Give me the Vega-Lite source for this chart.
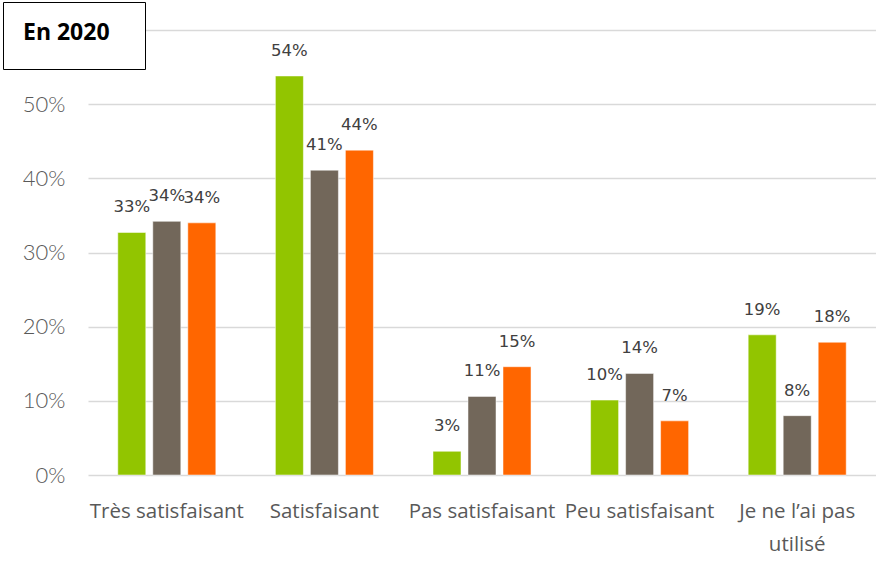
{
  "$schema": "https://vega.github.io/schema/vega-lite/v6.json",
  "width": 788,
  "height": 445,
  "autosize": {"type": "none"},
  "padding": {"left": 88, "top": 30, "right": 0, "bottom": 97},
  "background": "white",
  "config": {"view": {"stroke": null}},
  "data": {
    "values": [
      {"cat": "Très satisfaisant", "serie": "Série 1", "v": 0.327},
      {"cat": "Très satisfaisant", "serie": "Série 2", "v": 0.342},
      {"cat": "Très satisfaisant", "serie": "Série 3", "v": 0.340},
      {"cat": "Satisfaisant", "serie": "Série 1", "v": 0.538},
      {"cat": "Satisfaisant", "serie": "Série 2", "v": 0.411},
      {"cat": "Satisfaisant", "serie": "Série 3", "v": 0.438},
      {"cat": "Pas satisfaisant", "serie": "Série 1", "v": 0.032},
      {"cat": "Pas satisfaisant", "serie": "Série 2", "v": 0.106},
      {"cat": "Pas satisfaisant", "serie": "Série 3", "v": 0.146},
      {"cat": "Peu satisfaisant", "serie": "Série 1", "v": 0.101},
      {"cat": "Peu satisfaisant", "serie": "Série 2", "v": 0.137},
      {"cat": "Peu satisfaisant", "serie": "Série 3", "v": 0.073},
      {"cat": "Je ne l’ai pas utilisé", "serie": "Série 1", "v": 0.189},
      {"cat": "Je ne l’ai pas utilisé", "serie": "Série 2", "v": 0.080},
      {"cat": "Je ne l’ai pas utilisé", "serie": "Série 3", "v": 0.179}
    ]
  },
  "encoding": {
    "x": {
      "field": "cat", "type": "nominal", "sort": null,
      "scale": {"paddingInner": 0.378, "paddingOuter": 0.189},
      "axis": {
        "title": null, "labelAngle": 0, "domain": false, "ticks": false,
        "labelFont": "Open Sans", "labelFontSize": 20.5, "labelColor": "#595959",
        "labelPadding": 26, "labelLineHeight": 33, "labelLimit": 200,
        "labelExpr": "datum.value == 'Je ne l’ai pas utilisé' ? ['Je ne l’ai pas', 'utilisé'] : datum.label"
      }
    },
    "xOffset": {"field": "serie", "type": "nominal", "scale": {"paddingInner": 0.2, "paddingOuter": 0}},
    "y": {
      "field": "v", "type": "quantitative",
      "scale": {"domain": [0, 0.6], "nice": false},
      "axis": {
        "title": null, "values": [0, 0.1, 0.2, 0.3, 0.4, 0.5, 0.6],
        "domain": false, "ticks": false,
        "gridColor": "#d9d9d9", "gridWidth": 1.5,
        "labelFont": "Lato", "labelFontWeight": 300, "labelFontSize": 22, "labelColor": "#595959",
        "labelPadding": 23,
        "labelExpr": "datum.value >= 0.55 ? '' : format(datum.value, '.0%')"
      }
    }
  },
  "layer": [
    {
      "mark": {"type": "bar", "stroke": "white", "strokeWidth": 0.5},
      "encoding": {
        "color": {
          "field": "serie", "type": "nominal",
          "scale": {"domain": ["Série 1", "Série 2", "Série 3"], "range": ["#92c500", "#72675a", "#ff6600"]},
          "legend": {
            "orient": "none", "legendX": -85, "legendY": -28,
            "values": ["Série 1"],
            "title": "En 2020",
            "titleFont": "Open Sans", "titleFontSize": 23, "titleFontWeight": "bold", "titleColor": "black",
            "titlePadding": 0,
            "symbolSize": 16, "symbolOpacity": 0, "symbolStrokeWidth": 0,
            "labelFontSize": 4, "labelOpacity": 0, "labelOffset": 85,
            "padding": 20,
            "strokeColor": "black", "fillColor": "white"
          }
        }
      }
    },
    {
      "mark": {"type": "text", "baseline": "middle", "dy": -25, "font": "DejaVu Sans", "fontSize": 16.5, "color": "#404040"},
      "encoding": {
        "text": {"field": "v", "type": "quantitative", "format": ".0%"}
      }
    }
  ]
}
